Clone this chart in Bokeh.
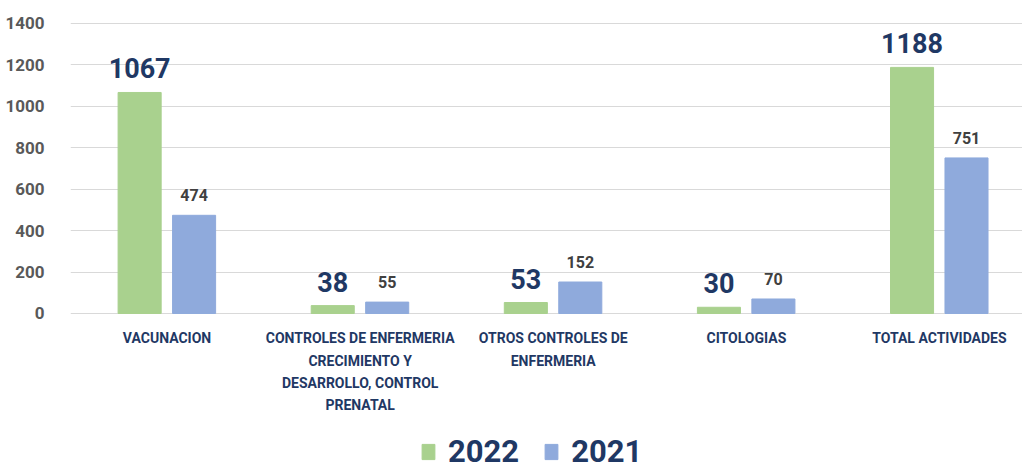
from bokeh.plotting import figure
from bokeh.models import Range1d, FixedTicker, Legend, LegendItem, ColumnDataSource
from bokeh.core.properties import value
from bokeh.embed import file_html
from bokeh.resources import INLINE

categories = [
    "VACUNACION",
    "CONTROLES DE ENFERMERIA\nCRECIMIENTO Y\nDESARROLLO, CONTROL\nPRENATAL",
    "OTROS CONTROLES DE\nENFERMERIA",
    "CITOLOGIAS",
    "TOTAL ACTIVIDADES",
]
series_2022 = [1067, 38, 53, 30, 1188]
series_2021 = [474, 55, 152, 70, 751]
y_ticks = [0, 200, 400, 600, 800, 1000, 1200, 1400]

FONT = "Roboto"
GREEN = "#A9D18E"
BLUE = "#8FAADC"
NAVY = "#1F3864"

centers = [i + 0.5 for i in range(len(categories))]
x22 = [c - 0.142 for c in centers]
x21 = [c + 0.140 for c in centers]

src22 = ColumnDataSource(dict(x=x22, top=series_2022, lab=[str(v) for v in series_2022]))
src21 = ColumnDataSource(dict(x=x21, top=series_2021, lab=[str(v) for v in series_2021]))
srccat = ColumnDataSource(dict(x=centers, y=[0] * len(centers), lab=categories))

# frame covers the whole height: 0 sits 313px below the top, 1400 sits 23px below the top
p = figure(width=1022, height=470, output_backend="svg", toolbar_location=None,
           x_range=Range1d(0, 4.93), y_range=Range1d(-758, 1511),
           min_border_top=0, min_border_right=0, min_border_left=70,
           min_border_bottom=0)
p.outline_line_color = None
p.background_fill_color = "white"
p.xaxis.visible = False

r22 = p.vbar(x="x", top="top", width=0.223, source=src22, color=GREEN)
r21 = p.vbar(x="x", top="top", width=0.223, source=src21, color=BLUE)

p.text(x="x", y="top", text="lab", source=src22, text_align="center",
       text_baseline="bottom", y_offset=-14, text_font=value(FONT),
       text_font_style="bold", text_font_size="27px", text_color=NAVY)
p.text(x="x", y="top", text="lab", source=src21, text_align="center",
       text_baseline="bottom", y_offset=-14, text_font=value(FONT),
       text_font_style="bold", text_font_size="16px", text_color="#404040")

# category labels under the baseline
p.text(x="x", y="y", text="lab", source=srccat, text_align="center",
       text_baseline="top", y_offset=17, text_font=value(FONT),
       text_font_style="bold", text_font_size="14px", text_line_height=1.38,
       text_color=NAVY)

# axes
p.xgrid.visible = False
p.ygrid.ticker = FixedTicker(ticks=y_ticks)
p.ygrid.grid_line_color = "#D9D9D9"
p.ygrid.grid_line_width = 1
p.yaxis.ticker = FixedTicker(ticks=y_ticks)
p.yaxis.axis_line_color = None
p.yaxis.major_tick_line_color = None
p.yaxis.minor_tick_line_color = None
p.yaxis.major_label_text_font = FONT
p.yaxis.major_label_text_font_style = "bold"
p.yaxis.major_label_text_font_size = "17px"
p.yaxis.major_label_text_color = "#595959"
p.yaxis.major_label_standoff = 20

legend = Legend(items=[LegendItem(label="2022", renderers=[r22]),
                       LegendItem(label="2021", renderers=[r21])],
                orientation="horizontal", location=(350, 0))
legend.label_text_font = FONT
legend.label_text_font_style = "bold"
legend.label_text_font_size = "31px"
legend.label_text_color = NAVY
legend.glyph_width = 16
legend.glyph_height = 19
legend.label_standoff = 12
legend.spacing = 24
legend.border_line_color = None
legend.background_fill_alpha = 0
legend.margin = 0
legend.padding = 0
p.add_layout(legend)

open("out.html", "w").write(file_html(p, INLINE))
